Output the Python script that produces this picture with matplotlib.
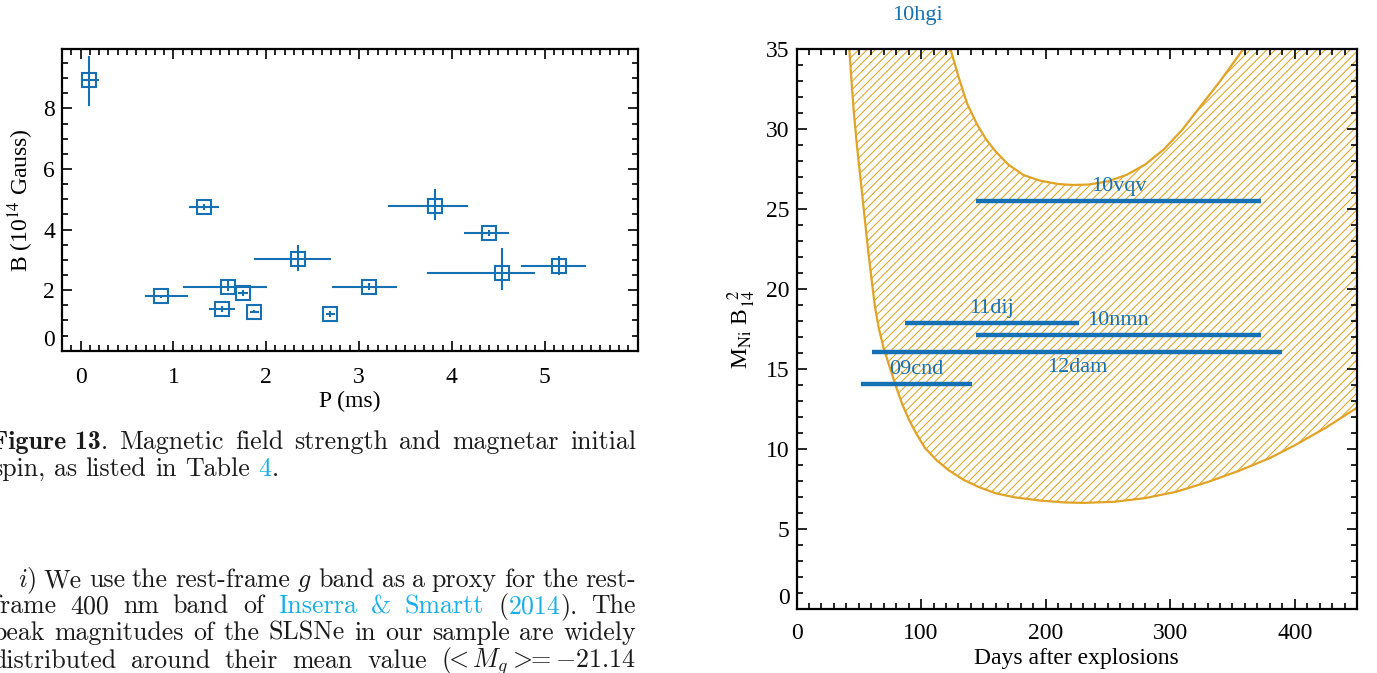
import matplotlib
matplotlib.use('Agg')
import matplotlib.pyplot as plt
import numpy as np

# Times-like text in the panels, CM fonts for the paper text
plt.rcParams.update({'font.family': 'Liberation Serif', 'mathtext.fontset': 'stix',
                     'font.size': 17, 'hatch.linewidth': 0.75})

W, H = 1377, 673
BLUE = '#1670b4'
ORANGE = '#e0a326'
LINK = '#18aee8'
INK = '#1a1a1a'

# left panel: initial spin period vs magnetic field
period = [0.09, 1.33, 0.87, 1.59, 1.52, 1.75, 1.87, 2.34, 2.69, 3.11, 3.82, 4.40, 4.54, 5.15]
period_lo = [0.07, 0.16, 0.18, 0.49, 0.14, 0.05, 0.05, 0.47, 0.05, 0.40, 0.51, 0.27, 0.81, 0.40]
period_hi = [0.11, 0.16, 0.29, 0.42, 0.14, 0.05, 0.05, 0.36, 0.05, 0.30, 0.35, 0.22, 0.36, 0.29]
bfield = [8.93, 4.73, 1.80, 2.11, 1.39, 1.89, 1.28, 3.02, 1.20, 2.11, 4.78, 3.90, 2.57, 2.80]
bfield_lo = [0.86, 0.10, 0.05, 0.15, 0.10, 0.10, 0.05, 0.38, 0.10, 0.12, 0.46, 0.10, 0.55, 0.31]
bfield_hi = [0.79, 0.10, 0.05, 0.20, 0.10, 0.10, 0.05, 0.47, 0.10, 0.12, 0.56, 0.10, 0.81, 0.32]

# right panel: allowed region (between the two curves) and observed ranges
days_outer = [42.4, 44, 46, 48.5, 51, 54, 57, 60, 63, 66, 70, 75, 80, 85, 90, 96, 103, 112, 122,
              134, 146, 160, 175, 195, 215, 230, 255, 280, 305, 330, 355, 380, 400, 425, 450]
mb_outer = [35, 33.2, 31.1, 29.0, 27.2, 25.0, 22.8, 20.8, 18.9, 17.6, 16.3, 15.1, 13.9, 12.8, 11.9,
            11.0, 10.1, 9.35, 8.7, 8.1, 7.65, 7.25, 7.0, 6.8, 6.68, 6.65, 6.72, 6.95, 7.35, 7.95,
            8.65, 9.45, 10.25, 11.35, 12.6]
days_inner = [123.7, 130, 137, 145, 152, 160, 170, 182, 195, 210, 222, 235, 250, 265, 280, 295,
              310, 325, 340, 358.6]
mb_inner = [35, 33.3, 31.6, 30.3, 29.4, 28.6, 27.8, 27.15, 26.8, 26.58, 26.52, 26.55, 26.75, 27.15,
            27.8, 28.75, 30.0, 31.5, 33.0, 35]

sn_names = ['10vqv', '11dij', '10nmn', '12dam', '09cnd']
sn_start = [144, 87, 144, 61, 51.5]
sn_end = [373, 226.5, 373, 390, 141]
sn_level = [25.52, 17.91, 17.16, 16.06, 14.08]
sn_side = [1, 1, 1, -1, 1]   # label above (1) or below (-1) the bar

fig = plt.figure(figsize=(W / 100, H / 100), dpi=100)


def style_axes(ax):
    for s in ax.spines.values():
        s.set_linewidth(1.6)
    ax.tick_params(which='both', direction='in', top=True, right=True, width=1.2)
    ax.tick_params(which='major', length=7.5)
    ax.tick_params(which='minor', length=4)
    ax.tick_params(axis='y', pad=5)


# ---- left panel
ax1 = fig.add_axes([62 / W, 1 - 350.7 / H, 575.5 / W, 301.4 / H])
ax1.errorbar(period, bfield, xerr=[period_lo, period_hi], yerr=[bfield_lo, bfield_hi],
             fmt='s', mfc='none', mec=BLUE, ms=9.5, mew=1.5, ecolor=BLUE, elinewidth=1.5, capsize=0)
ax1.set_xlim(-0.2, 6.0)
ax1.set_ylim(0, 9.95)
ax1.set_xticks(range(6))
ax1.set_yticks([0, 2, 4, 6, 8])
ax1.set_xticks(np.arange(-0.2, 6.0, 0.1), minor=True)
ax1.set_yticks(np.arange(0, 10, 0.5), minor=True)
style_axes(ax1)
ax1.tick_params(axis='x', pad=12)
ax1.set_xlabel('P (ms)', labelpad=2)
ax1.set_ylabel(r'B (10$^{14}$ Gauss)', labelpad=5)
ax1.get_yticklabels()[0].set_va('bottom')

# ---- right panel
xmax, ymax = 450, 35
ax2 = fig.add_axes([796.5 / W, 1 - 609.3 / H, 560.5 / W, 560 / H])
poly_x = np.concatenate([days_outer, [xmax], days_inner[::-1]])
poly_y = np.concatenate([mb_outer, [ymax], mb_inner[::-1]])
ax2.fill(poly_x, poly_y, facecolor='none', edgecolor=ORANGE, lw=0, hatch='////')
ax2.plot(days_outer, mb_outer, color=ORANGE, lw=1.6)
ax2.plot(days_inner, mb_inner, color=ORANGE, lw=1.6)
for name, x0, x1, lev, side in zip(sn_names, sn_start, sn_end, sn_level, sn_side):
    ax2.plot([x0, x1], [lev, lev], color=BLUE, lw=3.2, solid_capstyle='butt')
    ax2.text((x0 + x1) / 2, lev + 0.92 * side, name, color=BLUE, fontsize=16,
             ha='center', va='center')
ax2.text(97.5, 37.1, '10hgi', color=BLUE, fontsize=16, ha='center', va='center', clip_on=False)
ax2.set_xlim(0, xmax)
ax2.set_ylim(0, ymax)
ax2.set_xticks(range(0, 401, 100))
ax2.set_yticks(range(0, 36, 5))
ax2.set_xticks(range(0, 451, 10), minor=True)
ax2.set_yticks(range(0, 36, 1), minor=True)
style_axes(ax2)
ax2.tick_params(axis='x', pad=10)
ax2.set_xlabel('Days after explosions', labelpad=3)
ax2.set_ylabel(r'M$_{\rm Ni}$ B$_{14}^{\ \ 2}$', labelpad=6)
ax2.get_yticklabels()[0].set_va('bottom')

# ---- paper text around the figure
STYLES = {
    'rm': dict(family='cmr10', color=INK),
    'bf': dict(family='cmb10', color=INK),
    'link': dict(family='cmr10', color=LINK),
    'math': dict(family='cmr10', color=INK, math_fontfamily='cm'),
}
rend = fig.canvas.get_renderer()
X0, X1 = -8, 636


def plain(s):
    return [[(w, 'rm')] for w in s.split()]


# font size chosen so that an unstretched line fills the column
probe = fig.text(0, 0, 'peak magnitudes of the SLSNe in our sample are widely',
                 fontsize=10, **STYLES['rm'])
SIZE = 10 * 0.99 * (X1 - X0) / probe.get_window_extent(rend).width
probe.remove()


def place_line(words, y_px, x0, x1=X1, justify=True):
    pieces = []
    for word in words:
        segs = [fig.text(0, 1 - y_px / H, txt, fontsize=SIZE, va='baseline', ha='left', **STYLES[st])
                for txt, st in word]
        ws = [t.get_window_extent(rend).width for t in segs]
        pieces.append((segs, ws))
    total = sum(sum(ws) for _, ws in pieces)
    if justify and len(pieces) > 1:
        gap = (x1 - x0 - total) / (len(pieces) - 1)
    else:
        gap = 0.333 * SIZE * 100 / 72
    x = x0
    for segs, ws in pieces:
        xx = x
        for t, wi in zip(segs, ws):
            t.set_x(xx / W)
            xx += wi
        x = xx + gap


place_line([[('Figure 13', 'bf'), ('.', 'rm')]] + plain('Magnetic field strength and magnetar initial'), 449, X0)
place_line(plain('spin, as listed in Table') + [[('4', 'link'), ('.', 'rm')]], 476, X0, justify=False)
place_line([[(r'$i$)', 'math')]] + plain('We use the rest-frame') + [[('$g$', 'math')]]
           + plain('band as a proxy for the rest-'), 587, X0 + 26)
place_line(plain('frame 400 nm band of') + [[('Inserra', 'link')], [('&', 'link')], [('Smartt', 'link')],
           [('(', 'rm'), ('2014', 'link'), (').', 'rm')]] + plain('The'), 613, X0)
place_line(plain('peak magnitudes of the SLSNe in our sample are widely'), 640, X0)
place_line(plain('distributed around their mean value') + [[(r'$(\!\!<M_g>\!\!\!=-21.14$', 'math')]],
           668, X0)

fig.savefig('out.png', dpi=100)
